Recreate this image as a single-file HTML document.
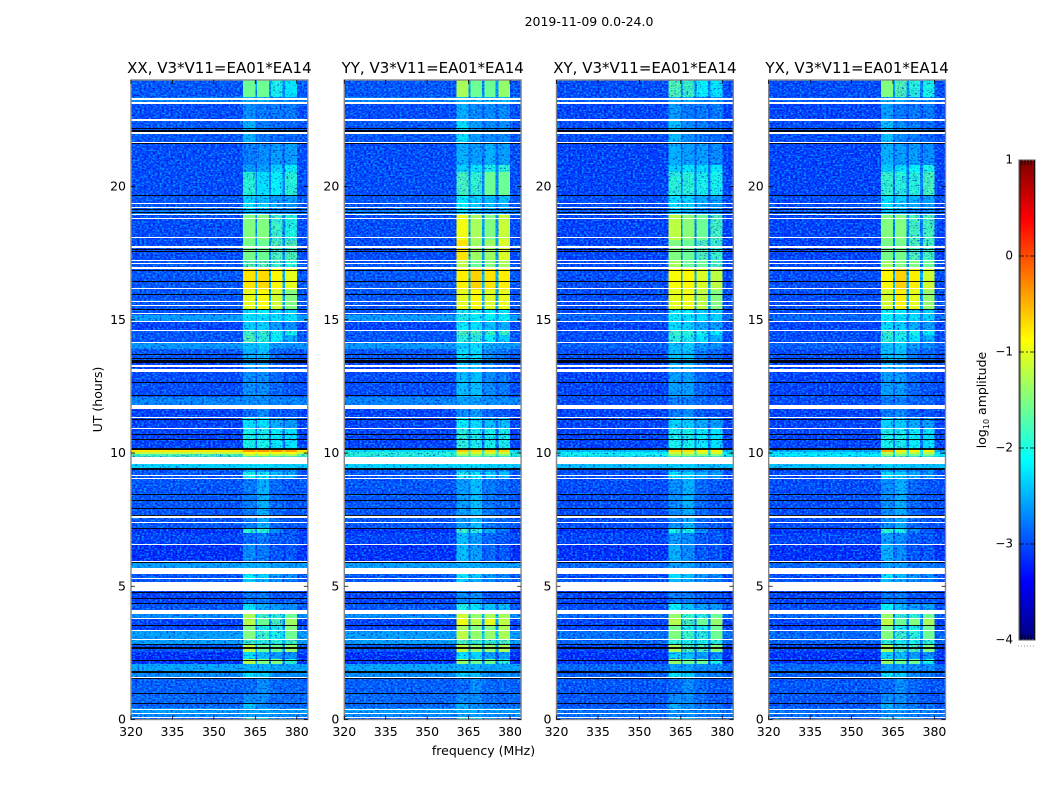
<!DOCTYPE html>
<html lang="en">
<head>
<meta charset="utf-8">
<title>2019-11-09 amplitude spectrogram</title>
<style>
html,body{margin:0;padding:0;background:#fff;width:1050px;height:800px;overflow:hidden}
svg{display:block}
text{font-family:"DejaVu Sans","Liberation Sans",sans-serif;fill:#000}
</style>
</head>
<body>
<svg id="chart" xmlns="http://www.w3.org/2000/svg" width="1050" height="800" viewBox="0 0 1050 800">
<defs id="defs"></defs>
<rect x="0" y="0" width="1050" height="800" fill="#fff"/>
<text x="589" y="26" font-size="12.5" text-anchor="middle">2019-11-09 0.0-24.0</text>
<text x="483.5" y="755" font-size="12.5" text-anchor="middle">frequency (MHz)</text>
<text transform="translate(102,399.5) rotate(-90)" font-size="12.5" text-anchor="middle">UT (hours)</text>
<text transform="translate(986,400) rotate(-90)" font-size="12.5" text-anchor="middle">log<tspan font-size="8" dy="3">10</tspan><tspan dy="-3"> amplitude</tspan></text>
</svg>
<script>
/* ---------- data ---------- */
const panelTitles = ['XX, V3*V11=EA01*EA14','YY, V3*V11=EA01*EA14','XY, V3*V11=EA01*EA14','YX, V3*V11=EA01*EA14'];
const freqTicks = [320,335,350,365,380];
const utTicks = [0,5,10,15,20];
const colorTicks = [1,0,-1,-2,-3,-4];
const colorTickLabels = ['1','0','\u22121','\u22122','\u22123','\u22124'];
const freqEdges = [320,360.6,365,365.7,369.9,370.7,374.8,375.8,380,384];
const utEdges = [0,.06,.24,.43,.62,.99,1.56,1.82,2.08,2.27,2.53,2.80,2.98,3.32,3.51,3.77,3.96,4.37,4.86,5.31,5.68,5.95,6.59,7.0,7.19,9.06,9.29,9.44,9.87,9.96,10.04,10.11,10.90,11.31,11.80,12.10,13.04,13.49,13.90,14.13,14.43,14.58,14.92,15.18,15.40,16.12,16.94,17.24,17.99,18.93,19.16,19.38,19.68,20.54,20.81,21.67,22.46,23.13,23.36,24];
/* log10 amplitude per UT band, bottom to top: [outside, block1, block2, block3, block4] */
const xxLevels = [
[-3,-1.9,-2,-2.6,-2.8],[-2.7,-2.6,-2.6,-2.7,-2.7],[-2.6,-2.5,-2.5,-2.6,-2.6],[-2.9,-2.4,-2.7,-2.8,-2.9],[-2.9,-2.7,-2.7,-2.9,-2.9],
[-2.95,-2.9,-2.7,-2.9,-2.9],[-2.7,-2.2,-2.3,-2.7,-2.7],[-2.55,-2.5,-2.5,-2.55,-2.55],[-3.2,-1.25,-1.5,-1.5,-1.9],[-3.2,-2.2,-2.4,-2.6,-2.7],
[-3,-1.2,-1.6,-1.6,-1.4],[-2.6,-1.8,-1.9,-1.9,-1.8],[-2.6,-1.5,-1.8,-2,-1.6],[-3.1,-1.5,-2,-2,-1.5],[-3.1,-1.25,-1.6,-1.7,-1.35],
[-2.7,-1.3,-1.8,-1.9,-1.6],[-3,-2.2,-2.5,-2.6,-2.7],[-3.1,-2.8,-2.8,-3,-3],[-3,-2.3,-2.5,-2.7,-2.8],[-3,-2.1,-2.3,-2.6,-2.7],
[-2.6,-2.5,-2.5,-2.6,-2.6],[-3.2,-2.7,-2.8,-3,-3],[-3.1,-2.9,-2.8,-3,-3],[-3.2,-1.9,-1.9,-2.7,-3],[-3,-2.8,-2.5,-2.9,-3],
[-3,-2,-2.1,-2.4,-2.5],[-3,-2.5,-2.6,-2.7,-2.7],[-2.3,-2.2,-2.2,-2.3,-2.3],[-1.7,-1.2,-1.2,-1.3,-1.3],[-1.2,-.9,-.9,-.9,-.9],
[-.75,-.35,-.35,-.35,-.4],[-3.1,-2,-2,-2.1,-2.2],[-3.1,-2.2,-2.2,-2.5,-2.6],[-3.1,-2.9,-2.7,-3,-3],[-2.75,-2.7,-2.7,-2.75,-2.75],
[-3.05,-2.7,-2.7,-2.9,-3],[-3.1,-2.6,-2.6,-2.9,-3],[-3,-2.5,-2.4,-2.9,-3],[-2.65,-2.4,-2.3,-2.65,-2.7],[-3,-1.7,-1.9,-2.1,-2.5],
[-3,-1.8,-1.8,-2,-2],[-3.1,-2.3,-2.3,-2.6,-2.7],[-2.6,-2.2,-2.2,-2.2,-2.2],[-3,-2.2,-2.1,-2.3,-2.3],[-3,-1,-.9,-1.1,-1.5],
[-3,-.75,-.7,-.85,-1],[-3,-1.7,-1.7,-1.8,-1.9],[-3.05,-1.55,-1.6,-1.7,-1.7],[-3.05,-1.5,-1.5,-1.8,-1.95],[-2.8,-2.5,-2.6,-2.7,-2.7],
[-3,-2.2,-2.3,-2.5,-2.6],[-3,-2.3,-2.4,-2.6,-2.6],[-3.05,-1.9,-2.2,-2.1,-1.9],[-3.05,-2.6,-2.6,-2.3,-2.1],[-3.05,-2.8,-2.7,-2.6,-2.6],
[-3,-2.5,-2.8,-2.9,-2.9],[-3.05,-2.7,-2.8,-2.8,-2.8],[-2.75,-2.5,-2.5,-2.7,-2.7],[-3,-1.6,-1.6,-2,-2.2]];
const yyLevels = [
[-3,-1.9,-2,-2.6,-2.8],[-2.7,-2.6,-2.6,-2.7,-2.7],[-2.6,-2.5,-2.5,-2.6,-2.6],[-2.9,-2.5,-2.7,-2.8,-2.9],[-2.9,-2.7,-2.7,-2.9,-2.9],
[-2.95,-2.9,-2.7,-2.9,-2.9],[-2.7,-2.3,-2.4,-2.7,-2.7],[-2.55,-2.5,-2.5,-2.55,-2.55],[-3.2,-1.4,-1.6,-1.6,-1.9],[-3.2,-2.2,-2.3,-2.6,-2.6],
[-3,-1.2,-1.4,-1.4,-1.3],[-2.6,-1.7,-1.8,-1.8,-1.7],[-2.6,-1.2,-1.4,-1.4,-1.3],[-3.1,-1.3,-1.5,-1.5,-1.3],[-3.1,-.95,-1.2,-1,-1.2],
[-2.7,-1.1,-1.4,-1.3,-1.3],[-3,-2,-2.2,-2.4,-2.4],[-3.1,-2.7,-2.7,-3,-3],[-3,-2.3,-2.5,-2.7,-2.8],[-3,-2.1,-2.3,-2.6,-2.7],
[-2.6,-2.5,-2.5,-2.6,-2.6],[-3.2,-2.4,-2.6,-2.9,-3],[-3.1,-2.4,-2.6,-2.9,-3],[-3.2,-1.8,-1.9,-2.5,-2.8],[-3,-2.6,-2.4,-2.8,-2.9],
[-3,-2,-2.1,-2.3,-2.4],[-3,-2.4,-2.5,-2.6,-2.6],[-2.3,-2.2,-2.2,-2.3,-2.3],[-1.9,-1.4,-1.4,-1.5,-1.5],[-1.9,-1.1,-1.1,-1.1,-1.1],
[-2.2,-.6,-.7,-.7,-.7],[-3.1,-1.9,-2,-2,-2],[-3.1,-2.1,-2.2,-2.4,-2.4],[-3.1,-2.7,-2.6,-2.9,-3],[-2.75,-2.6,-2.6,-2.7,-2.7],
[-3.05,-2.4,-2.4,-2.7,-2.8],[-3.1,-2.3,-2.4,-2.7,-2.9],[-3,-2.2,-2.2,-2.7,-2.8],[-2.65,-2.3,-2.2,-2.5,-2.6],[-3,-1.9,-1.9,-2.1,-2.3],
[-3,-1.7,-1.7,-1.8,-1.8],[-3.1,-2.1,-2.2,-2.4,-2.5],[-2.6,-2,-2.1,-2.1,-2.1],[-3,-2,-2,-2.1,-2.1],[-3,-1,-.85,-1.05,-1],
[-3,-.8,-.65,-.75,-.8],[-3,-1.2,-1.6,-1.5,-1.3],[-3.05,-.75,-1.35,-1.35,-1.05],[-3.05,-.95,-1.3,-1.5,-1.15],[-2.8,-2.3,-2.5,-2.6,-2.6],
[-3,-2.1,-2.3,-2.4,-2.5],[-3,-2.1,-2.3,-2.4,-2.4],[-3.05,-1.75,-1.85,-1.6,-1.6],[-3.05,-2.3,-2.2,-2,-1.9],[-3.05,-2.5,-2.6,-2.5,-2.6],
[-3,-2.2,-2.6,-2.7,-2.7],[-3.05,-2.5,-2.7,-2.7,-2.7],[-2.75,-2.4,-2.4,-2.4,-2.4],[-3,-1.3,-1.6,-1.6,-1.4]];
const xyLevels = [
[-3.05,-2.2,-2.3,-2.7,-2.9],[-2.85,-2.7,-2.7,-2.8,-2.8],[-2.85,-2.6,-2.6,-2.7,-2.7],[-3,-2.5,-2.7,-2.8,-2.9],[-3,-2.7,-2.7,-2.9,-3],
[-3,-2.9,-2.7,-2.9,-3],[-2.95,-2.2,-2.3,-2.7,-2.8],[-2.9,-2.6,-2.6,-2.7,-2.7],[-3.2,-1.4,-1.6,-1.6,-2],[-3.2,-2.3,-2.4,-2.6,-2.7],
[-3.1,-1.3,-1.7,-1.7,-1.5],[-2.9,-1.9,-2,-2,-1.9],[-2.85,-1.5,-1.8,-1.9,-1.6],[-3.1,-1.6,-2,-2,-1.6],[-3.1,-1.25,-1.7,-1.6,-1.4],
[-2.9,-1.4,-1.8,-1.9,-1.6],[-3.05,-2.1,-2.4,-2.6,-2.6],[-3.1,-2.8,-2.8,-3,-3],[-3,-2.4,-2.5,-2.7,-2.8],[-3.05,-2.2,-2.4,-2.6,-2.7],
[-2.9,-2.6,-2.6,-2.8,-2.8],[-3.2,-2.5,-2.7,-3,-3],[-3.1,-2.6,-2.7,-3,-3],[-3.2,-2,-2,-2.7,-3],[-3.05,-2.7,-2.5,-2.9,-3],
[-3.05,-2.2,-2.3,-2.5,-2.6],[-3.05,-2.6,-2.6,-2.7,-2.7],[-2.4,-2.3,-2.3,-2.4,-2.4],[-2,-1.4,-1.4,-1.5,-1.5],[-2.1,-1.1,-1.1,-1.1,-1.1],
[-2.4,-.7,-.7,-.8,-.8],[-3.1,-2,-2,-2.1,-2.2],[-3.1,-2.3,-2.3,-2.5,-2.6],[-3.1,-2.8,-2.7,-3,-3],[-3.05,-2.8,-2.8,-2.9,-2.9],
[-3.1,-2.6,-2.6,-2.9,-3],[-3.1,-2.5,-2.5,-2.8,-3],[-3.05,-2.4,-2.4,-2.8,-2.9],[-2.95,-2.4,-2.3,-2.6,-2.7],[-3.05,-1.9,-2,-2.2,-2.5],
[-3.05,-1.8,-1.9,-2,-2.1],[-3.1,-2.2,-2.3,-2.5,-2.6],[-2.9,-2.1,-2.2,-2.2,-2.3],[-3.05,-2.1,-2.1,-2.3,-2.3],[-3.05,-1,-.95,-1.2,-1.5],
[-3.05,-.9,-.85,-1.05,-1.2],[-3.05,-1.3,-1.6,-1.6,-1.7],[-3.1,-1.5,-1.6,-1.7,-1.8],[-3.1,-1.2,-1.45,-1.6,-1.75],[-3,-2.4,-2.5,-2.7,-2.7],
[-3.05,-2.2,-2.3,-2.5,-2.6],[-3.05,-2.2,-2.3,-2.5,-2.6],[-3.1,-1.9,-1.9,-2,-2],[-3.1,-2.3,-2.2,-2.2,-2.2],[-3.1,-2.5,-2.6,-2.6,-2.7],
[-3.05,-2.4,-2.7,-2.8,-2.9],[-3.1,-2.6,-2.8,-2.8,-2.8],[-2.95,-2.5,-2.5,-2.7,-2.7],[-3.05,-1.7,-1.8,-2.1,-2.2]];
const yxLevels = [
[-3.05,-2.2,-2.3,-2.7,-2.9],[-2.85,-2.7,-2.7,-2.8,-2.8],[-2.85,-2.6,-2.6,-2.7,-2.7],[-3,-2.5,-2.7,-2.8,-2.9],[-3,-2.7,-2.7,-2.9,-3],
[-3,-2.9,-2.7,-2.9,-3],[-2.95,-2.2,-2.3,-2.7,-2.8],[-2.9,-2.6,-2.6,-2.7,-2.7],[-3.2,-1.4,-1.6,-1.6,-2],[-3.2,-2.3,-2.4,-2.6,-2.7],
[-3.1,-1.3,-1.7,-1.7,-1.5],[-2.95,-1.9,-2,-2,-1.9],[-2.9,-1.5,-1.8,-1.9,-1.6],[-3.1,-1.6,-2,-2,-1.6],[-3.1,-1.2,-1.6,-1.5,-1.3],
[-2.9,-1.4,-1.8,-1.9,-1.6],[-3.05,-2.1,-2.4,-2.6,-2.6],[-3.1,-2.8,-2.8,-3,-3],[-3,-2.4,-2.5,-2.7,-2.8],[-3.05,-2.2,-2.4,-2.6,-2.7],
[-2.9,-2.6,-2.6,-2.8,-2.8],[-3.2,-2.5,-2.7,-3,-3],[-3.1,-2.6,-2.7,-3,-3],[-3.2,-1.9,-2,-2.7,-3],[-3.05,-2.7,-2.5,-2.9,-3],
[-3.05,-2.2,-2.3,-2.5,-2.6],[-3.05,-2.6,-2.6,-2.7,-2.7],[-2.4,-2.3,-2.3,-2.4,-2.4],[-2.1,-1.5,-1.5,-1.6,-1.6],[-2.2,-1.2,-1.2,-1.2,-1.2],
[-2.5,-.5,-.8,-.8,-.8],[-3.1,-2,-2,-2.1,-2.2],[-3.1,-2.3,-2.3,-2.5,-2.6],[-3.1,-2.8,-2.7,-3,-3],[-3.05,-2.8,-2.8,-2.9,-2.9],
[-3.1,-2.6,-2.6,-2.9,-3],[-3.1,-2.5,-2.5,-2.8,-3],[-3.05,-2.4,-2.4,-2.8,-2.9],[-2.95,-2.4,-2.3,-2.6,-2.7],[-3.05,-1.9,-2,-2.2,-2.5],
[-3.05,-1.8,-1.9,-2,-2.1],[-3.1,-2.2,-2.3,-2.5,-2.6],[-2.9,-2.1,-2.2,-2.2,-2.3],[-3.05,-2.1,-2.1,-2.3,-2.3],[-3.05,-1.1,-.8,-1,-1.4],
[-3.05,-.85,-.65,-.8,-1.1],[-3.05,-1.35,-1.5,-1.5,-1.6],[-3.1,-1.55,-1.55,-1.7,-1.75],[-3.1,-1.5,-1.5,-1.75,-1.75],[-3,-2.4,-2.5,-2.7,-2.7],
[-3.05,-2.2,-2.3,-2.5,-2.6],[-3.05,-2.2,-2.3,-2.5,-2.6],[-3.1,-1.85,-1.9,-1.9,-1.75],[-3.1,-2.3,-2.2,-2.1,-2],[-3.1,-2.5,-2.6,-2.6,-2.7],
[-3.05,-2.4,-2.7,-2.8,-2.9],[-3.1,-2.6,-2.8,-2.8,-2.8],[-2.95,-2.5,-2.5,-2.7,-2.7],[-3.05,-1.5,-1.7,-1.9,-2]];
const panelLevels = [xxLevels,yyLevels,xyLevels,yxLevels];
/* UT spans with no data (white) */
const flaggedStart = [23.26,23.10,22.46,21.97,21.62,19.34,19.19,18.91,18.78,18.04,17.69,17.19,17.09,16.93,16.17,15.64,15.54,15.19,14.92,14.58,14.13,13.28,13.21,13.04,11.65,11.31,10.90,9.59,9.14,9.04,7.56,7.37,6.55,5.91,5.46,5.27,4.84,3.96,3.77,3.32,2.99,1.58,.34,.21,.04];
const flaggedEnd   = [23.34,23.16,22.53,22.05,21.67,19.38,19.23,18.96,18.82,18.09,17.77,17.24,17.13,17.00,16.21,15.69,15.57,15.24,14.96,14.62,14.17,13.32,13.25,13.17,11.80,11.35,10.94,9.87,9.19,9.08,7.66,7.41,6.60,5.95,5.68,5.31,5.16,4.11,3.81,3.36,3.03,1.61,.39,.24,.08];
/* UT spans of near-zero amplitude (black) */
const nullStart = [22.15,22.06,21.59,19.63,19.13,19.00,17.62,17.55,16.82,16.44,15.93,15.37,13.66,13.53,13.38,12.64,12.11,11.21,10.66,10.48,10.11,9.36,8.44,8.20,7.90,7.66,7.15,5.86,4.75,4.52,4.33,3.51,2.80,2.63,2.21,1.76,1.52,.94,.58];
const nullEnd   = [22.19,22.12,21.62,19.68,19.17,19.04,17.67,17.59,16.87,16.47,15.97,15.40,13.71,13.58,13.49,12.68,12.16,11.26,10.71,10.53,10.18,9.42,8.48,8.24,7.94,7.69,7.19,5.90,4.78,4.56,4.37,3.55,2.83,2.72,2.25,1.82,1.56,.98,.62];

/* ---------- layout ---------- */
const NS = 'http://www.w3.org/2000/svg';
const chart = document.getElementById('chart');
const defs = document.getElementById('defs');
const panelLeft = [131,344.3,556.5,768.7];
const panelWidth = 176.8, plotTop = 80, plotBottom = 719.5;
const segmentBlock = [0,1,-1,2,-2,3,-3,4,0];
function xAxis(left, mhz){ return left + (mhz - 320) / 64 * panelWidth; }
function yAxis(ut){ return plotBottom - ut / 24 * (plotBottom - plotTop); }
function cbarY(v){ return 160 + (1 - v) / 5 * 480; }
function jet(v){
  const t = Math.max(0, Math.min(1, (v + 4) / 5));
  const f = s => Math.round(255 * Math.max(0, Math.min(1, 1.5 - Math.abs(4 * t - s))));
  return 'rgb(' + f(3) + ',' + f(2) + ',' + f(1) + ')';
}
function make(tag, parent, attrs){
  const el = document.createElementNS(NS, tag);
  for (const k in attrs) el.setAttribute(k, attrs[k]);
  parent.appendChild(el);
  return el;
}
function level(row, kind){
  if (kind >= 0) return row[kind];
  const b = Math.max(row[-kind], row[-kind + 1]);
  return row[0] + 0.25 * (b - row[0]);
}
function lineBox(start, end){
  const y0 = Math.round(yAxis(end));
  const h = Math.max(1, Math.round(yAxis(start) - yAxis(end)));
  return {y:y0, height:h};
}

/* ---------- panels ---------- */
panelTitles.forEach(function(title, p){
  const left = panelLeft[p];
  const seed = 3 + p * 7;
  const filter = make('filter', defs, {id:'speckle' + p, x:'0', y:'0', width:'100%', height:'100%', 'color-interpolation-filters':'sRGB'});
  make('feTurbulence', filter, {type:'fractalNoise', baseFrequency:'.45 .6', numOctaves:'1', seed:seed, result:'n'});
  make('feColorMatrix', filter, {in:'n', type:'matrix', values:'0 0 0 0 0  0 0 0 0 .75  0 0 0 0 1  5 0 0 0 -2.5', result:'light'});
  make('feColorMatrix', filter, {in:'n', type:'matrix', values:'0 0 0 0 0  0 0 0 0 0  0 0 0 0 .8  -4.5 0 0 0 2.05', result:'dark'});
  const merge = make('feMerge', filter, {});
  make('feMergeNode', merge, {in:'light'});
  make('feMergeNode', merge, {in:'dark'});

  const group = make('g', chart, {});
  
  

  const quiet = make('g', group, {'shape-rendering':'crispEdges'});
  
  

  const speckle = make('rect', group, {x:xAxis(left,320), y:plotTop, width:panelWidth, height:plotBottom-plotTop, filter:'url(#speckle' + p + ')', opacity:'.7'});
  
  

  const bright = make('g', group, {'shape-rendering':'crispEdges'});
  
  

  panelLevels[p].forEach(function(row, b){
    segmentBlock.forEach(function(kind, s){
      const v = level(row, kind);
      const x0 = xAxis(left, freqEdges[s]), x1 = xAxis(left, freqEdges[s + 1]);
      const y0 = yAxis(utEdges[b + 1]), y1 = yAxis(utEdges[b]);
      const cell = make('rect', v > -1.7 ? bright : quiet, {x:x0, y:y0, width:x1 - x0, height:y1 - y0, fill:jet(v)});
      
      
    });
  });

  flaggedStart.forEach(function(start, i){
    const box = lineBox(start, flaggedEnd[i]);
    const band = make('rect', group, {x:xAxis(left,320), y:box.y, width:panelWidth, height:box.height, fill:'#fff', 'shape-rendering':'crispEdges'});
    
    
  });
  nullStart.forEach(function(start, i){
    const box = lineBox(start, nullEnd[i]);
    const band = make('rect', group, {x:xAxis(left,320), y:box.y, width:panelWidth, height:box.height, fill:'#000', 'fill-opacity':'.9', 'shape-rendering':'crispEdges'});
    
    
  });

  const frame = make('rect', group, {x:left, y:plotTop, width:panelWidth, height:plotBottom - plotTop, fill:'none', stroke:'#888', 'stroke-width':'1.4'});
  
  

  const heading = make('text', group, {x:left + panelWidth / 2, y:73, 'font-size':'15', 'text-anchor':'middle'});
  heading.textContent = title;
  
  

  freqTicks.forEach(function(f){
    const x = xAxis(left, f);
    const tick = make('path', group, {d:'M' + x + ' ' + plotBottom + 'v-4M' + x + ' ' + plotTop + 'v4', stroke:'#000', 'stroke-width':'.8', fill:'none'});
    
    
    const label = make('text', group, {x:x, y:736, 'font-size':'12.5', 'text-anchor':'middle'});
    label.textContent = f;
    
    
  });
  utTicks.forEach(function(u){
    const y = yAxis(u);
    const tick = make('path', group, {d:'M' + left + ' ' + y + 'h4M' + (left + panelWidth) + ' ' + y + 'h-4', stroke:'#000', 'stroke-width':'.8', fill:'none'});
    
    
    const label = make('text', group, {x:left - 5, y:y + 4, 'font-size':'12.5', 'text-anchor':'end'});
    label.textContent = u;
    
    
  });
});

/* ---------- colorbar ---------- */
const cbar = make('g', chart, {});


const cbarSteps = 240;
for (let i = 0; i < cbarSteps; i++){
  const v0 = 1 - 5 * i / cbarSteps, v1 = 1 - 5 * (i + 1) / cbarSteps;
  const swatch = make('rect', cbar, {x:1019, y:cbarY(v0), width:16, height:cbarY(v1) - cbarY(v0), fill:jet((v0 + v1) / 2), 'shape-rendering':'crispEdges'});
  
  
}
const cbarFrame = make('rect', cbar, {x:1019, y:160, width:16, height:480, fill:'none', stroke:'#777', 'stroke-width':'1.2'});


const cbarSides = make('path', cbar, {d:'M1020 160V640M1034.5 160V640', stroke:'#000', 'stroke-width':'.8', fill:'none'});


colorTicks.forEach(function(v, i){
  const y = cbarY(v);
  const isEnd = i === 0 || i === colorTicks.length - 1;
  if (isEnd){
    const dir = i === 0 ? 'v5' : 'v-5';
    const minor = make('path', cbar, {d:'M1022 ' + y + dir + 'M1025 ' + y + dir + 'M1028 ' + y + dir + 'M1031 ' + y + dir, stroke:'#000', 'stroke-width':'.8', fill:'none'});
    
    
  } else {
    const tick = make('path', cbar, {d:'M1019 ' + y + 'h5M1026 ' + y + 'h2M1030 ' + y + 'h5', stroke:'#000', 'stroke-width':'.8', fill:'none'});
    
    
  }
  const label = make('text', cbar, {x:1013, y:y + 3.5, 'font-size':'12', 'text-anchor':'end'});
  label.textContent = colorTickLabels[i];
  
  
});
const cbarDots = make('path', cbar, {d:'M1018 646h17', stroke:'#999', 'stroke-width':'1', 'stroke-dasharray':'1 2', fill:'none'});


</script>
</body>
</html>
